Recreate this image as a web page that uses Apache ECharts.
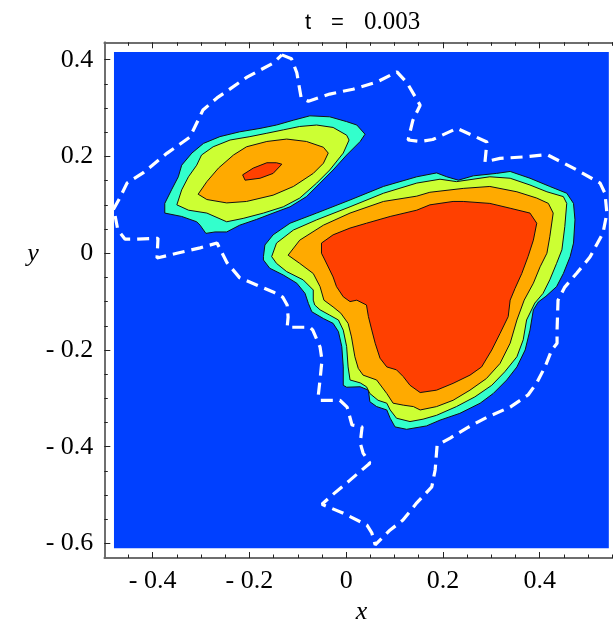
<!DOCTYPE html>
<html>
<head>
<meta charset="utf-8">
<script src="https://cdn.jsdelivr.net/npm/echarts@6/dist/echarts.min.js"></script>
<style>html,body{margin:0;padding:0;background:#fff}#c{width:613px;height:629px}</style>
</head>
<body>
<div id="c"></div>
<script>
// ---- data ----
const titleTime = '0.003';
const xName = 'x';
const yName = 'y';
const xTicks = [-0.4, -0.2, 0, 0.2, 0.4];
const yTicks = [-0.6, -0.4, -0.2, 0, 0.2, 0.4];
const xMinor = [-0.45, -0.35, -0.3, -0.25, -0.15, -0.1, -0.05, 0.05, 0.1, 0.15, 0.25, 0.3, 0.35, 0.45, 0.5, 0.55];
const yMinor = [-0.55, -0.5, -0.45, -0.35, -0.3, -0.25, -0.15, -0.1, -0.05, 0.05, 0.1, 0.15, 0.25, 0.3, 0.35];
const frameX = [-0.5, 0.563];
const frameY = [-0.63, 0.436];
const plotRangeX = [-0.48, 0.543];
const plotRangeY = [-0.61, 0.416];

// contour bands (level 1 = outermost)
const smallCyan = [[-0.375,0.083],[-0.375,0.103],[-0.361,0.131],[-0.347,0.158],[-0.340,0.182],[-0.319,0.207],[-0.295,0.227],[-0.261,0.241],[-0.220,0.251],[-0.178,0.258],[-0.144,0.265],[-0.109,0.275],[-0.075,0.284],[-0.034,0.282],[0.001,0.272],[0.022,0.265],[0.039,0.246],[0.029,0.231],[0.001,0.203],[-0.027,0.172],[-0.054,0.145],[-0.082,0.117],[-0.116,0.096],[-0.151,0.083],[-0.185,0.070],[-0.220,0.058],[-0.247,0.044],[-0.271,0.044],[-0.290,0.041],[-0.302,0.058],[-0.309,0.065],[-0.340,0.076]];
const smallYellow = [[-0.350,0.100],[-0.340,0.131],[-0.326,0.158],[-0.309,0.182],[-0.299,0.203],[-0.275,0.220],[-0.240,0.234],[-0.199,0.241],[-0.164,0.248],[-0.130,0.255],[-0.096,0.262],[-0.061,0.265],[-0.027,0.260],[0.001,0.244],[0.006,0.234],[-0.006,0.207],[-0.034,0.172],[-0.061,0.145],[-0.096,0.114],[-0.130,0.096],[-0.171,0.083],[-0.213,0.072],[-0.247,0.065],[-0.288,0.083],[-0.326,0.089]];
const smallOrange = [[-0.306,0.122],[-0.288,0.148],[-0.264,0.176],[-0.233,0.203],[-0.206,0.220],[-0.164,0.231],[-0.123,0.236],[-0.082,0.231],[-0.047,0.219],[-0.037,0.207],[-0.047,0.186],[-0.068,0.165],[-0.109,0.138],[-0.151,0.120],[-0.206,0.107],[-0.247,0.104],[-0.288,0.111]];
const smallRed = [[-0.133,0.184],[-0.144,0.187],[-0.164,0.187],[-0.192,0.176],[-0.214,0.162],[-0.209,0.151],[-0.178,0.155],[-0.151,0.165]];

const bigCyan = [[-0.171,-0.007],[-0.168,0.017],[-0.151,0.038],[-0.116,0.062],[-0.061,0.083],[0.008,0.110],[0.077,0.138],[0.146,0.158],[0.187,0.166],[0.208,0.158],[0.232,0.151],[0.263,0.160],[0.311,0.165],[0.339,0.169],[0.380,0.155],[0.421,0.138],[0.456,0.124],[0.470,0.103],[0.473,0.069],[0.470,0.021],[0.463,-0.007],[0.449,-0.042],[0.435,-0.069],[0.413,-0.089],[0.397,-0.101],[0.387,-0.117],[0.380,-0.159],[0.370,-0.200],[0.353,-0.235],[0.332,-0.262],[0.304,-0.290],[0.277,-0.310],[0.235,-0.331],[0.194,-0.345],[0.166,-0.357],[0.125,-0.364],[0.101,-0.359],[0.091,-0.341],[0.084,-0.324],[0.063,-0.317],[0.049,-0.307],[0.046,-0.283],[0.029,-0.276],[0.001,-0.277],[-0.006,-0.273],[-0.006,-0.235],[-0.009,-0.193],[-0.016,-0.162],[-0.027,-0.145],[-0.047,-0.135],[-0.071,-0.121],[-0.078,-0.104],[-0.085,-0.083],[-0.102,-0.062],[-0.130,-0.045],[-0.158,-0.031],[-0.171,-0.014]];
const bigYellow = [[-0.154,-0.007],[-0.144,0.021],[-0.109,0.048],[-0.061,0.069],[0.008,0.096],[0.077,0.124],[0.146,0.145],[0.194,0.153],[0.228,0.148],[0.297,0.158],[0.339,0.155],[0.380,0.141],[0.415,0.127],[0.449,0.117],[0.456,0.103],[0.452,0.055],[0.446,0.007],[0.435,-0.021],[0.421,-0.055],[0.407,-0.083],[0.390,-0.103],[0.373,-0.138],[0.366,-0.179],[0.353,-0.214],[0.328,-0.245],[0.301,-0.273],[0.266,-0.297],[0.228,-0.317],[0.187,-0.335],[0.159,-0.343],[0.132,-0.348],[0.104,-0.341],[0.091,-0.324],[0.084,-0.310],[0.066,-0.304],[0.049,-0.290],[0.042,-0.276],[0.029,-0.268],[0.008,-0.262],[0.004,-0.235],[0.001,-0.193],[-0.006,-0.159],[-0.016,-0.138],[-0.034,-0.128],[-0.054,-0.117],[-0.065,-0.107],[-0.068,-0.097],[-0.068,-0.076],[-0.089,-0.055],[-0.123,-0.038],[-0.144,-0.021]];
const bigOrange = [[-0.120,-0.004],[-0.096,0.027],[-0.047,0.058],[0.008,0.083],[0.077,0.107],[0.146,0.118],[0.173,0.126],[0.242,0.134],[0.297,0.138],[0.353,0.127],[0.394,0.114],[0.418,0.103],[0.428,0.083],[0.421,0.034],[0.415,0.000],[0.401,-0.028],[0.387,-0.062],[0.368,-0.097],[0.353,-0.138],[0.339,-0.186],[0.318,-0.228],[0.290,-0.259],[0.256,-0.283],[0.221,-0.304],[0.187,-0.317],[0.153,-0.324],[0.139,-0.317],[0.118,-0.314],[0.097,-0.310],[0.084,-0.290],[0.063,-0.262],[0.035,-0.252],[0.025,-0.238],[0.018,-0.214],[0.011,-0.173],[0.004,-0.145],[-0.011,-0.124],[-0.027,-0.111],[-0.046,-0.097],[-0.054,-0.069],[-0.068,-0.042],[-0.096,-0.021]];
const bigRed = [[-0.051,0.021],[-0.027,0.038],[0.008,0.052],[0.042,0.062],[0.091,0.076],[0.146,0.089],[0.173,0.100],[0.221,0.107],[0.242,0.107],[0.297,0.103],[0.339,0.093],[0.380,0.083],[0.394,0.062],[0.387,0.027],[0.376,-0.007],[0.363,-0.042],[0.349,-0.073],[0.339,-0.097],[0.335,-0.131],[0.318,-0.166],[0.301,-0.200],[0.280,-0.235],[0.256,-0.252],[0.221,-0.269],[0.187,-0.283],[0.153,-0.288],[0.132,-0.273],[0.118,-0.255],[0.104,-0.241],[0.084,-0.235],[0.070,-0.217],[0.060,-0.186],[0.053,-0.159],[0.046,-0.131],[0.042,-0.107],[0.022,-0.097],[0.008,-0.100],[-0.006,-0.090],[-0.020,-0.069],[-0.027,-0.049],[-0.044,-0.014],[-0.051,0.000]];

// white dashed reference contour (closed loop)
const dashedLoop = [[-0.133,0.410],[-0.113,0.402],[-0.102,0.373],[-0.093,0.321],[-0.078,0.314],[-0.034,0.329],[0.014,0.339],[0.064,0.354],[0.105,0.375],[0.126,0.352],[0.153,0.306],[0.138,0.275],[0.128,0.234],[0.153,0.231],[0.179,0.235],[0.229,0.258],[0.291,0.230],[0.287,0.189],[0.318,0.196],[0.366,0.199],[0.415,0.204],[0.448,0.187],[0.477,0.172],[0.525,0.145],[0.535,0.124],[0.539,0.083],[0.531,0.042],[0.504,-0.008],[0.477,-0.041],[0.452,-0.070],[0.438,-0.097],[0.436,-0.159],[0.436,-0.186],[0.425,-0.200],[0.411,-0.235],[0.394,-0.268],[0.376,-0.293],[0.339,-0.318],[0.291,-0.339],[0.250,-0.361],[0.215,-0.382],[0.188,-0.397],[0.184,-0.448],[0.177,-0.483],[0.146,-0.516],[0.117,-0.552],[0.091,-0.572],[0.060,-0.603],[0.053,-0.578],[0.043,-0.562],[-0.007,-0.537],[-0.050,-0.519],[-0.029,-0.500],[0.008,-0.469],[0.049,-0.434],[0.035,-0.413],[0.029,-0.392],[0.033,-0.359],[0.012,-0.355],[0.002,-0.318],[-0.013,-0.304],[-0.054,-0.304],[-0.058,-0.297],[-0.054,-0.262],[-0.050,-0.221],[-0.054,-0.194],[-0.069,-0.159],[-0.075,-0.153],[-0.122,-0.153],[-0.120,-0.132],[-0.122,-0.107],[-0.131,-0.091],[-0.151,-0.080],[-0.184,-0.066],[-0.220,-0.051],[-0.246,-0.020],[-0.267,0.021],[-0.302,0.011],[-0.350,0.000],[-0.391,-0.010],[-0.389,0.031],[-0.433,0.029],[-0.457,0.029],[-0.472,0.048],[-0.478,0.079],[-0.482,0.089],[-0.468,0.114],[-0.453,0.145],[-0.420,0.166],[-0.370,0.207],[-0.323,0.240],[-0.296,0.296],[-0.267,0.321],[-0.205,0.364],[-0.151,0.393]];

// ---- styles ----
const bandColors = ['#0040FF', '#33FFCC', '#CCFF33', '#FFAA00', '#FF4000'];
const serif = 'Liberation Serif';

const layers = [
  {poly: [[plotRangeX[0], plotRangeY[0]], [plotRangeX[1], plotRangeY[0]], [plotRangeX[1], plotRangeY[1]], [plotRangeX[0], plotRangeY[1]]], level: 0},
  {poly: smallCyan, level: 1}, {poly: bigCyan, level: 1},
  {poly: smallYellow, level: 2}, {poly: bigYellow, level: 2},
  {poly: smallOrange, level: 3}, {poly: bigOrange, level: 3},
  {poly: smallRed, level: 4}, {poly: bigRed, level: 4}
];

function fmt(v) {
  if (Math.abs(v) < 1e-9) return '0';
  return v < 0 ? '- ' + (-v).toFixed(1) : v.toFixed(1);
}

const chart = echarts.init(document.getElementById('c'), null, {renderer: 'canvas'});
const axisLineStyle = {color: '#666', width: 1.5};
const tickStyle = {color: '#222', width: 1};

function xAx(pos, values, len, labels) {
  return {
    type: 'value', min: frameX[0], max: frameX[1], position: pos,
    axisLine: {show: true, onZero: false, lineStyle: axisLineStyle},
    axisTick: {show: true, inside: true, length: len, customValues: values, lineStyle: tickStyle},
    axisLabel: labels ? {show: true, customValues: xTicks, formatter: fmt, margin: 10, fontFamily: serif, fontSize: 26, color: '#000'} : {show: false},
    splitLine: {show: false},
    name: labels ? xName : '', nameLocation: 'middle', nameGap: 41,
    nameTextStyle: {fontFamily: serif, fontStyle: 'italic', fontSize: 26, color: '#000'}
  };
}
function yAx(pos, values, len, labels) {
  return {
    type: 'value', min: frameY[0], max: frameY[1], position: pos,
    axisLine: {show: true, onZero: false, lineStyle: axisLineStyle},
    axisTick: {show: true, inside: true, length: len, customValues: values, lineStyle: tickStyle},
    axisLabel: labels ? {show: true, customValues: yTicks, formatter: fmt, margin: 11, fontFamily: serif, fontSize: 26, color: '#000'} : {show: false},
    splitLine: {show: false}
  };
}

chart.setOption({
  animation: false,
  backgroundColor: '#fff',
  title: {
    text: '{s|t}{g|}{s|=}{g|}{n|' + titleTime + '}',
    left: 300, top: 5,
    textStyle: {fontWeight: 'normal', rich: {
      s: {fontFamily: 'Liberation Sans', fontSize: 22, fontWeight: 'normal', color: '#000'},
      g: {width: 20},
      n: {fontFamily: serif, fontSize: 25, fontWeight: 'normal', color: '#000'}
    }}
  },
  graphic: [{
    type: 'text', x: 33, y: 254, silent: true,
    style: {text: yName, fontFamily: serif, fontStyle: 'italic', fontSize: 26, fill: '#000', align: 'center', verticalAlign: 'middle'}
  }],
  grid: {left: 104.3, top: 42.3, width: 514.2, height: 515.7, containLabel: false, outerBoundsMode: 'none'},
  xAxis: [xAx('bottom', xTicks, 6, true), xAx('bottom', xMinor, 3.5, false), xAx('top', xTicks, 6, false), xAx('top', xMinor, 3.5, false)],
  yAxis: [yAx('left', yTicks, 6, true), yAx('left', yMinor, 3.5, false)],
  series: [
    {
      type: 'custom', coordinateSystem: 'cartesian2d', xAxisIndex: 0, yAxisIndex: 0,
      data: layers.map((l, i) => [i]),
      encode: {x: -1, y: -1},
      renderItem: function (params, api) {
        const l = layers[params.dataIndex];
        const pts = l.poly.map(p => api.coord(p));
        return {
          type: 'polygon', shape: {points: pts},
          style: {fill: bandColors[l.level], stroke: l.level === 0 ? null : '#111', lineWidth: l.level === 0 ? 0 : 1}
        };
      },
      silent: true, z: 1
    },
    {
      type: 'line', xAxisIndex: 0, yAxisIndex: 0,
      data: dashedLoop.concat([dashedLoop[0]]),
      showSymbol: false, symbol: 'none', smooth: false,
      lineStyle: {color: '#fff', width: 3.2, type: [12, 7], cap: 'butt'},
      silent: true, z: 5
    }
  ]
});
</script>
</body>
</html>
